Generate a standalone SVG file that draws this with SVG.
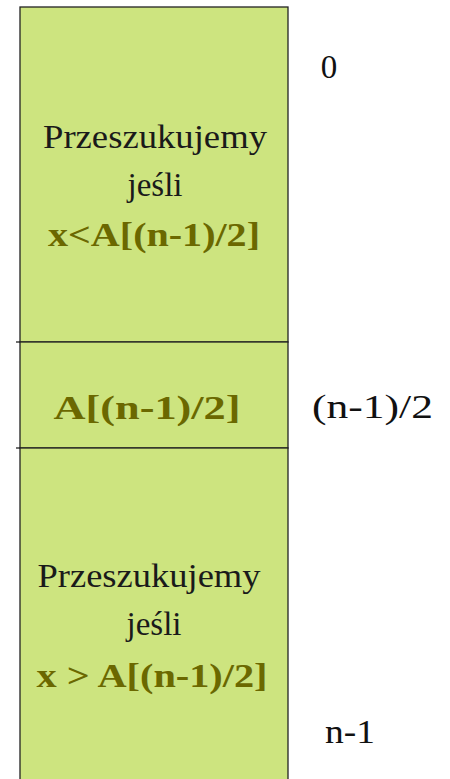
<svg xmlns="http://www.w3.org/2000/svg" width="450" height="779" viewBox="0 0 450 779">
<style>
text{font-family:'Liberation Serif','Times New Roman','DejaVu Serif',serif;font-size:33px}
.t{fill:#1a1a1a}
.b{font-weight:bold;fill:#6b6800}
.lbl{fill:#111}
.box{stroke:#222;stroke-width:1.3;fill:#cde47f}
.ln{stroke:#222;stroke-width:1.3;fill:none}
</style>
<rect width="450" height="779" fill="#fff"/>
<g id="top">
<rect x="20" y="7" width="268" height="335" class="box"/>
<text class="t" x="155" y="148" text-anchor="middle" textLength="224" lengthAdjust="spacingAndGlyphs">Przeszukujemy</text>
<text class="t" x="155" y="196" text-anchor="middle">jeśli</text>
<text class="b" x="154" y="246" text-anchor="middle" textLength="212" lengthAdjust="spacingAndGlyphs">x&lt;A[(n-1)/2]</text>
</g>
<g id="middle">
<rect x="20" y="342" width="268" height="106" class="box"/>
<text class="b" x="147" y="419" text-anchor="middle" textLength="187" lengthAdjust="spacingAndGlyphs">A[(n-1)/2]</text>
</g>
<g id="bottom">
<rect x="20" y="448" width="268" height="340" class="box"/>
<text class="t" x="149" y="587" text-anchor="middle" textLength="223" lengthAdjust="spacingAndGlyphs">Przeszukujemy</text>
<text class="t" x="154" y="635" text-anchor="middle">jeśli</text>
<text class="b" x="152" y="687" text-anchor="middle" textLength="231" lengthAdjust="spacingAndGlyphs">x &gt; A[(n-1)/2]</text>
</g>
<g id="connectors">
<line class="ln" x1="16" y1="342" x2="20" y2="342"/>
<line class="ln" x1="16" y1="448" x2="20" y2="448"/>
</g>
<g id="labels">
<text class="lbl" x="329" y="78" text-anchor="middle">0</text>
<text class="lbl" x="312" y="418" textLength="121" lengthAdjust="spacingAndGlyphs">(n-1)/2</text>
<text class="lbl" x="325" y="743" textLength="50" lengthAdjust="spacingAndGlyphs">n-1</text>
</g>
</svg>
